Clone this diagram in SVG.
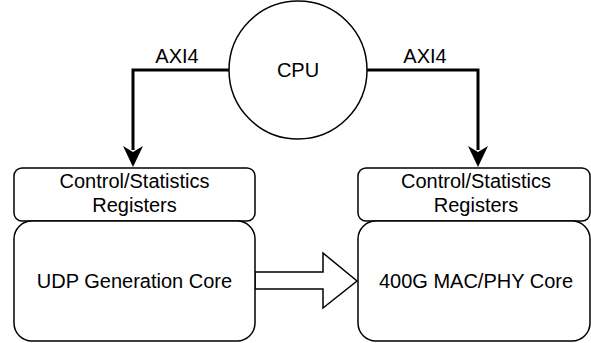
<svg xmlns="http://www.w3.org/2000/svg" width="591" height="343" viewBox="0 0 591 343">
<style>
.box{fill:#fff;stroke:#000;stroke-width:1.5}
.t{font-family:"Liberation Sans",Arial,sans-serif;font-size:20px;fill:#000;text-anchor:middle}
.wire{fill:none;stroke:#000;stroke-width:3}
</style>
<rect width="591" height="343" fill="#fff"/>
<g id="connectors">
<path class="wire" d="M229,70 H133 V150"/>
<polygon points="123,146 133,152 143,146 133,167" fill="#000"/>
<path class="wire" d="M367,70 H478 V150"/>
<polygon points="468,146 478,152 488,146 478,167" fill="#000"/>
<text class="t" x="177" y="63">AXI4</text>
<text class="t" x="425" y="63">AXI4</text>
<polygon points="255,272 323,272 323,253 357,281 323,308 323,289 255,289" fill="#fff" stroke="#000" stroke-width="1.5"/>
</g>
<g id="cpu">
<circle cx="298" cy="70" r="69" fill="#fff" stroke="#000" stroke-width="1.5"/>
<text class="t" x="298" y="77">CPU</text>
</g>
<g id="regs-left">
<rect class="box" x="14" y="168" width="241" height="53" rx="8"/>
<text class="t" x="134.5" y="188">Control/Statistics</text>
<text class="t" x="134.5" y="212">Registers</text>
</g>
<g id="udp-core">
<rect class="box" x="14" y="221" width="241" height="120" rx="18"/>
<text class="t" x="134.5" y="288">UDP Generation Core</text>
</g>
<g id="regs-right">
<rect class="box" x="358" y="168" width="232" height="53" rx="8"/>
<text class="t" x="476" y="188">Control/Statistics</text>
<text class="t" x="476" y="212">Registers</text>
</g>
<g id="mac-core">
<rect class="box" x="358" y="221" width="232" height="120" rx="18"/>
<text class="t" x="476" y="288">400G MAC/PHY Core</text>
</g>
</svg>
